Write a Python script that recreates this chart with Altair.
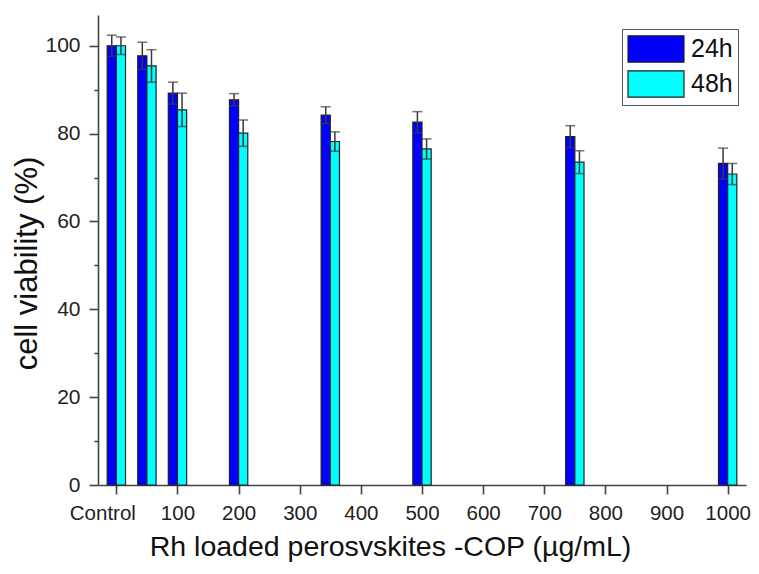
import altair as alt
import pandas as pd

# concentrations (0 = Control)
positions = [0, 50, 100, 200, 350, 500, 750, 1000]
series = ["24h", "48h"]
viab_24h = [100.0, 97.7, 89.2, 87.7, 84.2, 82.6, 79.3, 73.2]
err_24h = [2.4, 3.1, 2.5, 1.4, 1.9, 2.4, 2.5, 3.5]
viab_48h = [100.0, 95.4, 85.4, 80.1, 78.2, 76.5, 73.5, 70.8]
err_48h = [2.0, 3.7, 3.8, 3.0, 2.2, 2.3, 2.6, 2.4]
bar_w = 15  # bar width in concentration units

rows = []
for p, v, e in zip(positions, viab_24h, err_24h):
    rows.append(dict(series="24h", x1=p - bar_w, x2=p, xc=p - bar_w / 2, v=v, base=0, lo=v - e, hi=v + e))
for p, v, e in zip(positions, viab_48h, err_48h):
    rows.append(dict(series="48h", x1=p, x2=p + bar_w, xc=p + bar_w / 2, v=v, base=0, lo=v - e, hi=v + e))
df = pd.DataFrame(rows)

FONT = "Liberation Sans"
PLOT_LEFT = 98  # page x of plot area's left edge
xscale = alt.Scale(domain=[-30, 1030], nice=False, zero=False)
yscale = alt.Scale(domain=[0, 107], nice=False)

xaxis = alt.Axis(
    values=list(range(0, 1001, 50)),
    format="d",
    labelExpr="datum.value == 0 ? 'Control' : (datum.value % 100 == 0 ? datum.label : '')",
    labelOffset={"condition": {"test": "datum.value == 0", "value": -14}, "value": 0},
    tickSize={"condition": {"test": "datum.value % 100 == 0", "value": 9}, "value": 5},
    grid=False,
    labelFontSize=20.5,
    labelPadding=9,
    title="Rh loaded perosvskites -COP (µg/mL)",
    titleFontSize=28.5,
    titlePadding=9,
    titleX=390 - PLOT_LEFT,
)
yaxis = alt.Axis(
    values=list(range(0, 101, 10)),
    labelExpr="datum.value % 20 == 0 ? datum.label : ''",
    tickSize={"condition": {"test": "datum.value % 20 == 0", "value": 9}, "value": 4},
    grid=False,
    labelFontSize=21,
    labelPadding=9,
    title="cell viability (%)",
    titleFontSize=31,
    titlePadding=1,
    titleY=263 - 15,
)

color = alt.Color(
    "series:N",
    scale=alt.Scale(domain=series, range=["#0000FF", "#00FFFF"]),
    legend=alt.Legend(
        title=None,
        orient="none",
        legendX=622 - PLOT_LEFT,
        legendY=14,
        symbolType="M-1,-0.94L3,-0.94L3,0.94L-1,0.94Z",
        symbolSize=784,
        symbolStrokeColor="#222",
        symbolStrokeWidth=1.2,
        symbolOpacity=1,
        labelFontSize=25,
        labelOffset=34,
        rowPadding=3,
        padding=5,
        strokeColor="#555",
        fillColor="white",
    ),
)

base = alt.Chart(df)

bars = base.mark_bar(stroke="#222", strokeWidth=1.2, opacity=1).encode(
    x=alt.X("x1:Q", scale=xscale, axis=xaxis),
    x2="x2:Q",
    y=alt.Y("v:Q", scale=yscale, axis=yaxis),
    y2="base:Q",
    color=color,
)

err_line = base.mark_rule(color="#3a3a3a", strokeWidth=1.5).encode(
    x="xc:Q", y="lo:Q", y2="hi:Q"
)
cap_hi = base.mark_tick(color="#3a3a3a", orient="horizontal", size=10, thickness=1.5).encode(
    x="xc:Q", y="hi:Q"
)
cap_lo = base.mark_tick(color="#3a3a3a", orient="horizontal", size=10, thickness=1.5).encode(
    x="xc:Q", y="lo:Q"
)

chart = (
    alt.layer(bars, err_line, cap_hi, cap_lo)
    .properties(
        width=648,
        height=470,
        autosize=alt.AutoSizeParams(type="none"),
        padding={"left": PLOT_LEFT - 8, "top": 7, "right": 5, "bottom": 81},
    )
    .configure_view(stroke=None)
    .configure_axis(
        labelFont=FONT,
        titleFont=FONT,
        titleFontWeight="normal",
        labelColor="#222",
        titleColor="#111",
        domainColor="#444",
        domainWidth=1.6,
        tickColor="#444",
        tickWidth=1.6,
    )
    .configure_legend(labelFont=FONT, labelColor="#111")
)

chart.save("out.html", embed_options={"renderer": "svg", "actions": False})
